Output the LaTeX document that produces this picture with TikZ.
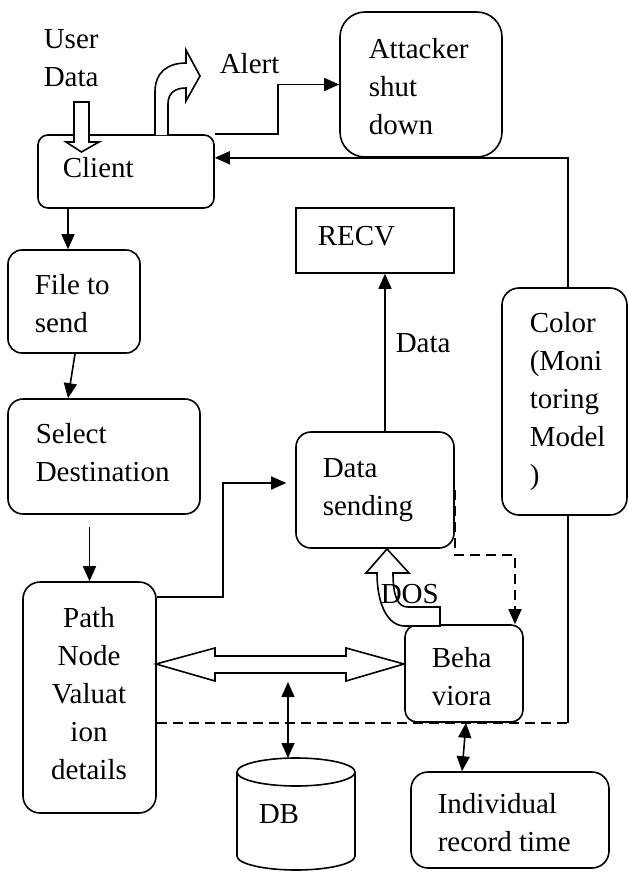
\documentclass[tikz,border=0pt]{standalone}
\usepackage{fontspec}
\setmainfont{Liberation Serif}
\usetikzlibrary{arrows.meta,calc}
\begin{document}
\begin{tikzpicture}[x=1pt,y=-1pt,
  line width=1.6pt,
  every node/.style={font=\fontsize{29}{38}\selectfont},
  box/.style={draw, rectangle, inner sep=0pt, line width=1.6pt},
  rbox/.style={box, rounded corners=#1},
  txt/.style={anchor=north west, inner sep=0pt, align=left},
  ctxt/.style={anchor=north, inner sep=0pt, align=center},
  arr/.style={-{Triangle[length=15pt,width=13pt]}},
  darr/.style={{Triangle[length=15pt,width=13pt]}-{Triangle[length=15pt,width=13pt]}},
  dashline/.style={dash pattern=on 10pt off 6pt},
  block/.style={draw, fill=white, line width=1.6pt, line join=miter},
]
\useasboundingbox[fill=white] (0,0) rectangle (628,871);

% ---- boxes ----
\node[rbox=10, minimum width=176pt, minimum height=73pt]  (client)   at (126,171.5) {};
\node[rbox=25, minimum width=162pt, minimum height=145pt] (attacker) at (421,84.5) {};
\node[rbox=14, minimum width=132pt, minimum height=103pt] (file)     at (74,301.5) {};
\node[rbox=15, minimum width=192pt, minimum height=115pt] (select)   at (104,456.5) {};
\node[rbox=17, minimum width=133pt, minimum height=231pt] (path)     at (89.5,697.5) {};
\node[box,     minimum width=158pt, minimum height=65pt]  (recv)     at (375,240.5) {};
\node[rbox=15, minimum width=158pt, minimum height=116pt] (datasend) at (375,490) {};
\node[rbox=12, minimum width=118pt, minimum height=97pt]  (behav)    at (464,673.5) {};
\node[rbox=17, minimum width=125pt, minimum height=227pt] (color)    at (564.5,401.5) {};
\node[rbox=17, minimum width=198pt, minimum height=96pt]  (indiv)    at (510,820) {};

% database cylinder
\draw (237,772) -- (237,856)
  .. controls (237,863.7) and (263.4,870) .. (296,870)
  .. controls (328.6,870) and (355,863.7) .. (355,856) -- (355,772);
\draw (296,772) ellipse [x radius=59, y radius=14];
\coordinate (dbtop) at (288,758);

% ---- block arrows ----
% user data into the client
\draw[block] (74,102) -- (89,102) -- (89,142) -- (99,142) -- (81.5,152)
  -- (66,142) -- (74,142) -- cycle;
% alert arrow bending to the right
\draw[block] (155,135) -- (155,92) .. controls (155,72) and (168,63) .. (186,63)
  -- (186,50) -- (200,76) -- (186,101) -- (186,88)
  .. controls (175,88) and (168,93) .. (168,104) -- (168,135);
% DOS arrow from the behaviour box up to data sending
\draw[block] (440,626) -- (405,626) .. controls (387,626) and (377,603) .. (377,573)
  -- (366,573) -- (387,549) -- (409,573) -- (393,573)
  .. controls (393,597) and (398,607) .. (408,607) -- (440,607) -- cycle;
% two-way link between path details and behaviour
\draw[block] (156,664) -- (215,648) -- (215,656) -- (346,656) -- (346,648)
  -- (404,664) -- (346,681) -- (346,673) -- (215,673) -- (215,681) -- cycle;

% ---- texts ----
\node[txt] (tuser)   at (43,21.4)   {\strut User\\Data};
\node[txt] (talert)  at (219,46.4)  {\strut Alert};
\node[txt] (tclient) at (62,150.4)  {\strut Client};
\node[txt] (tatt)    at (368,31.4)  {\strut Attacker\\shut\\down};
\node[txt] (tfile)   at (34,267.4)  {\strut File to\\send};
\node[txt] (tsel)    at (35,416.4)  {\strut Select\\Destination};
\node[ctxt] (tpath)  at (89,600.4)  {\strut Path\\Node\\Valuat\\ion\\details};
\node[txt] (trecv)   at (317,218.4) {\strut RECV};
\node[txt] (tdata)   at (395,325.4) {\strut Data};
\node[txt] (tcolor)  at (529,305.4) {\strut Color\\(Moni\\toring\\Model\\)};
\node[txt] (tsend)   at (322,450.4) {\strut Data\\sending};
\node[txt] (tdos)    at (380,576.4) {\strut DOS};
\node[txt] (tbeh)    at (431,640.4) {\strut Beha\\viora};
\node[txt] (tdb)     at (258,796.4) {\strut DB};
\node[txt] (tind)    at (437,786.4) {\strut Individual\\record time};

% ---- connectors ----
\draw[arr] (client.north east) -- ++(63,0) |- (attacker.west);
\draw[arr] ([xshift=3.5pt]color.north) |- (client.east |- attacker.south);
\draw[arr] ([xshift=-58pt]client.south) -- ([xshift=-6pt]file.north);
\draw[arr] ([xshift=1pt]file.south) -- ([xshift=-36pt]select.north);
\draw[arr] ($(path.north)+(0,-54)$) -- (path.north);
\draw[arr, shorten >=9pt] ($(path.north east)+(0,16)$) -- ++(66,0)
  |- ($(datasend.west)+(0,-7)$);
\draw[arr] ($(datasend.north)+(10,0)$) -- ($(recv.south)+(10,0)$);
\draw[arr, dashline] (datasend.east) -- ++(0,65) -| ($(behav.north)+(51,0)$);
\coordinate (dbarr) at (288,682);
\draw[darr] (dbarr) -- (dbtop);
\draw[darr] ($(behav.south)+(2,0)$) -- ($(indiv.north)+(-48,0)$);
\coordinate (cb) at ($(color.south)+(3.5,0)$);
\draw (cb) -- (cb |- behav.south);
\draw[dashline] (path.east |- behav.south) -- (cb |- behav.south);
\end{tikzpicture}
\end{document}
